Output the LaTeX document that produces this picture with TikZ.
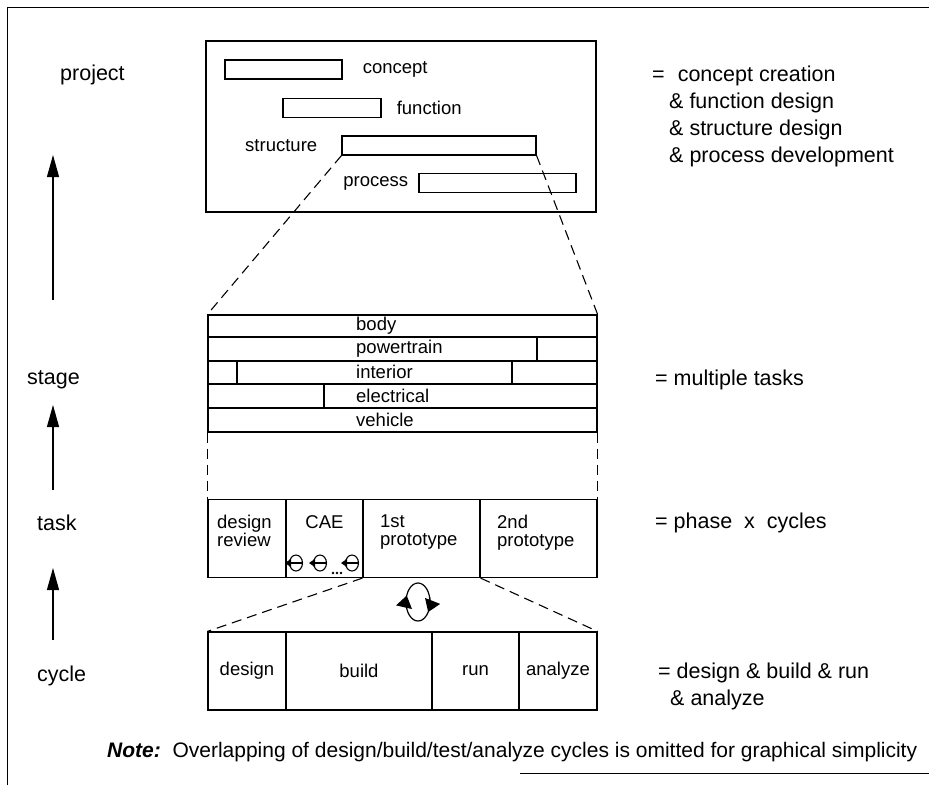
\documentclass[tikz,border=0pt]{standalone}
\usepackage{fontspec}
\setmainfont{Liberation Sans}
\usetikzlibrary{positioning,arrows.meta,calc}
\tikzset{
    >=Stealth[round],
    box/.style = {draw, line width = 1.2pt, inner sep = 0pt},
    bar/.style = {box, minimum height = 19pt},
    cell/.style = {box, minimum height = 78pt, align = center},
    lbl/.style = {inner sep = 0pt, anchor = west},
    side/.style = {lbl, font = \fontsize{21.5}{27}\selectfont},
    twoline/.style = {lbl, anchor = north west, align = left, font = \fontsize{18.5}{17.5}\selectfont},
    manyline/.style = {side, align = left},
    zoomline/.style = {line width = 1.1pt, dash pattern = on 10pt off 6pt},
    uparrow/.style = {line width = 1.2pt, -{Triangle[length = 22pt, width = 12pt]}},
    spinarrow/.style = {line width = 1.2pt, -{Triangle[length = 12pt, width = 16pt]}},
}

\begin{document}
\begin{tikzpicture}[x=1pt, y=-1pt, font=\fontsize{18.5}{22}\selectfont]
    \useasboundingbox (0,0) rectangle (929,785);
    \draw[line width=1pt] (7,785) -- (7,7) -- (929,7);
    \draw[line width=1pt] (520,773) -- (929,773);

    % project
    \node[box, minimum width=390, minimum height=171] (project) at (401,126.5) {};
    \node[bar, minimum width=117] (concept) at (283.5,69.5) {};
    \node[bar, minimum width=98] (function) at (332,108) {};
    \node[bar, minimum width=194] (structure) at (439,145.5) {};
    \node[bar, minimum width=157] (process) at (497.5,183) {};
    \node[lbl, right=20pt of concept] {concept};
    \node[lbl, right=15pt of function] {function};
    \node[lbl, left=24pt of structure] {structure};
    \node[lbl, left=10pt of process] {process};

    % stage
    \node[box, minimum width=389, minimum height=117] (stage) at (402.5,373.5) {};
    \foreach \y in {337,361,384,408}
        \draw[line width=1.2pt] (208,\y) -- (597,\y);
    \draw[line width=1.2pt] (537,337) -- (537,361)  (237,361) -- (237,384)
        (512,361) -- (512,384)  (324,384) -- (324,408);
    \foreach \part/\y in {body/326, powertrain/349, interior/372, electrical/396, vehicle/420}
        \node[lbl] (\part) at (356,\y) {\part};

    % task
    \node[cell, minimum width=78] (review) at (247,538.5) {};
    \node[cell, minimum width=77] (cae) at (324.5,538.5) {};
    \node[cell, minimum width=117] (first) at (421.5,538.5) {};
    \node[cell, minimum width=117] (second) at (538.5,538.5) {};
    \node[twoline] at (217,515) {design\\review};
    \node[lbl, anchor=north] at (324.5,515) {CAE};
    \node[twoline] at (380,515) {1st\\prototype};
    \node[twoline] at (497,515) {2nd\\prototype};
    \foreach \x in {296,320,352} {
        \draw[line width=1.1pt] (\x,563) ellipse [x radius=6.5, y radius=8];
        \draw[line width=1.1pt, -{Triangle[length=6pt,width=8pt]}] (\x+6,563) -- (\x-11,563);
    }
    \foreach \x in {333,337,341}
        \fill (\x,573) circle [radius=1.4];

    % cycle
    \node[cell, minimum width=78] (design) at (247,671) {design};
    \node[cell, minimum width=146] (build) at (359,671) {build};
    \node[cell, minimum width=87] (run) at (475.5,671) {run};
    \node[cell, minimum width=78] (analyze) at (558,671) {analyze};

    \coordinate (spin) at (418,602);
    \draw[line width=1.2pt] (spin) ellipse [x radius=12, y radius=19];
    \draw[spinarrow] ($(spin)+(160:12 and 19)$) arc [start angle=160, end angle=200, x radius=12, y radius=19];
    \draw[spinarrow] ($(spin)+(-15:12 and 19)$) arc [start angle=-15, end angle=32, x radius=12, y radius=19];

    % zoom lines
    \draw[zoomline] (structure.south west) -- (stage.north west);
    \draw[zoomline] (structure.south east) -- (stage.north east);
    \draw[zoomline] (stage.south west) -- (review.north west);
    \draw[zoomline] (stage.south east) -- (second.north east);
    \draw[zoomline] (first.south west) -- (design.north west);
    \draw[zoomline] (first.south east) -- (analyze.north east);

    % levels
    \node[side] (lproject) at (60,75) {project};
    \node[side] (lstage) at (27,380) {stage};
    \node[side] (ltask) at (37,523) {task};
    \node[side] (lcycle) at (37,676) {cycle};
    \foreach \i/\from/\to in {1/300/155, 2/490/405, 3/640/568} {
        \coordinate (tail\i) at (53,\from);
        \coordinate (tip\i) at (53,\to);
        \draw[uparrow] (tail\i) -- (tip\i);
    }

    \node[manyline] (rproject) at (652,116) {=\hspace{13pt}concept creation\\\hspace*{17pt}\& function design\\\hspace*{17pt}\& structure design\\\hspace*{17pt}\& process development};
    \node[side] (rstage) at (655,380) {= multiple tasks};
    \node[side] (rtask) at (655,523) {= phase\ \ x\ \ cycles};
    \node[manyline] (rcycle) at (658,686.5) {= design \& build \& run\\\hspace*{12pt}\& analyze};

    \node[lbl, font=\fontsize{21}{25}\selectfont] (note) at (107,752) {\textbf{\textit{Note:}}\ \ Overlapping of design/build/test/analyze cycles is omitted for graphical simplicity};
\end{tikzpicture}
\end{document}
